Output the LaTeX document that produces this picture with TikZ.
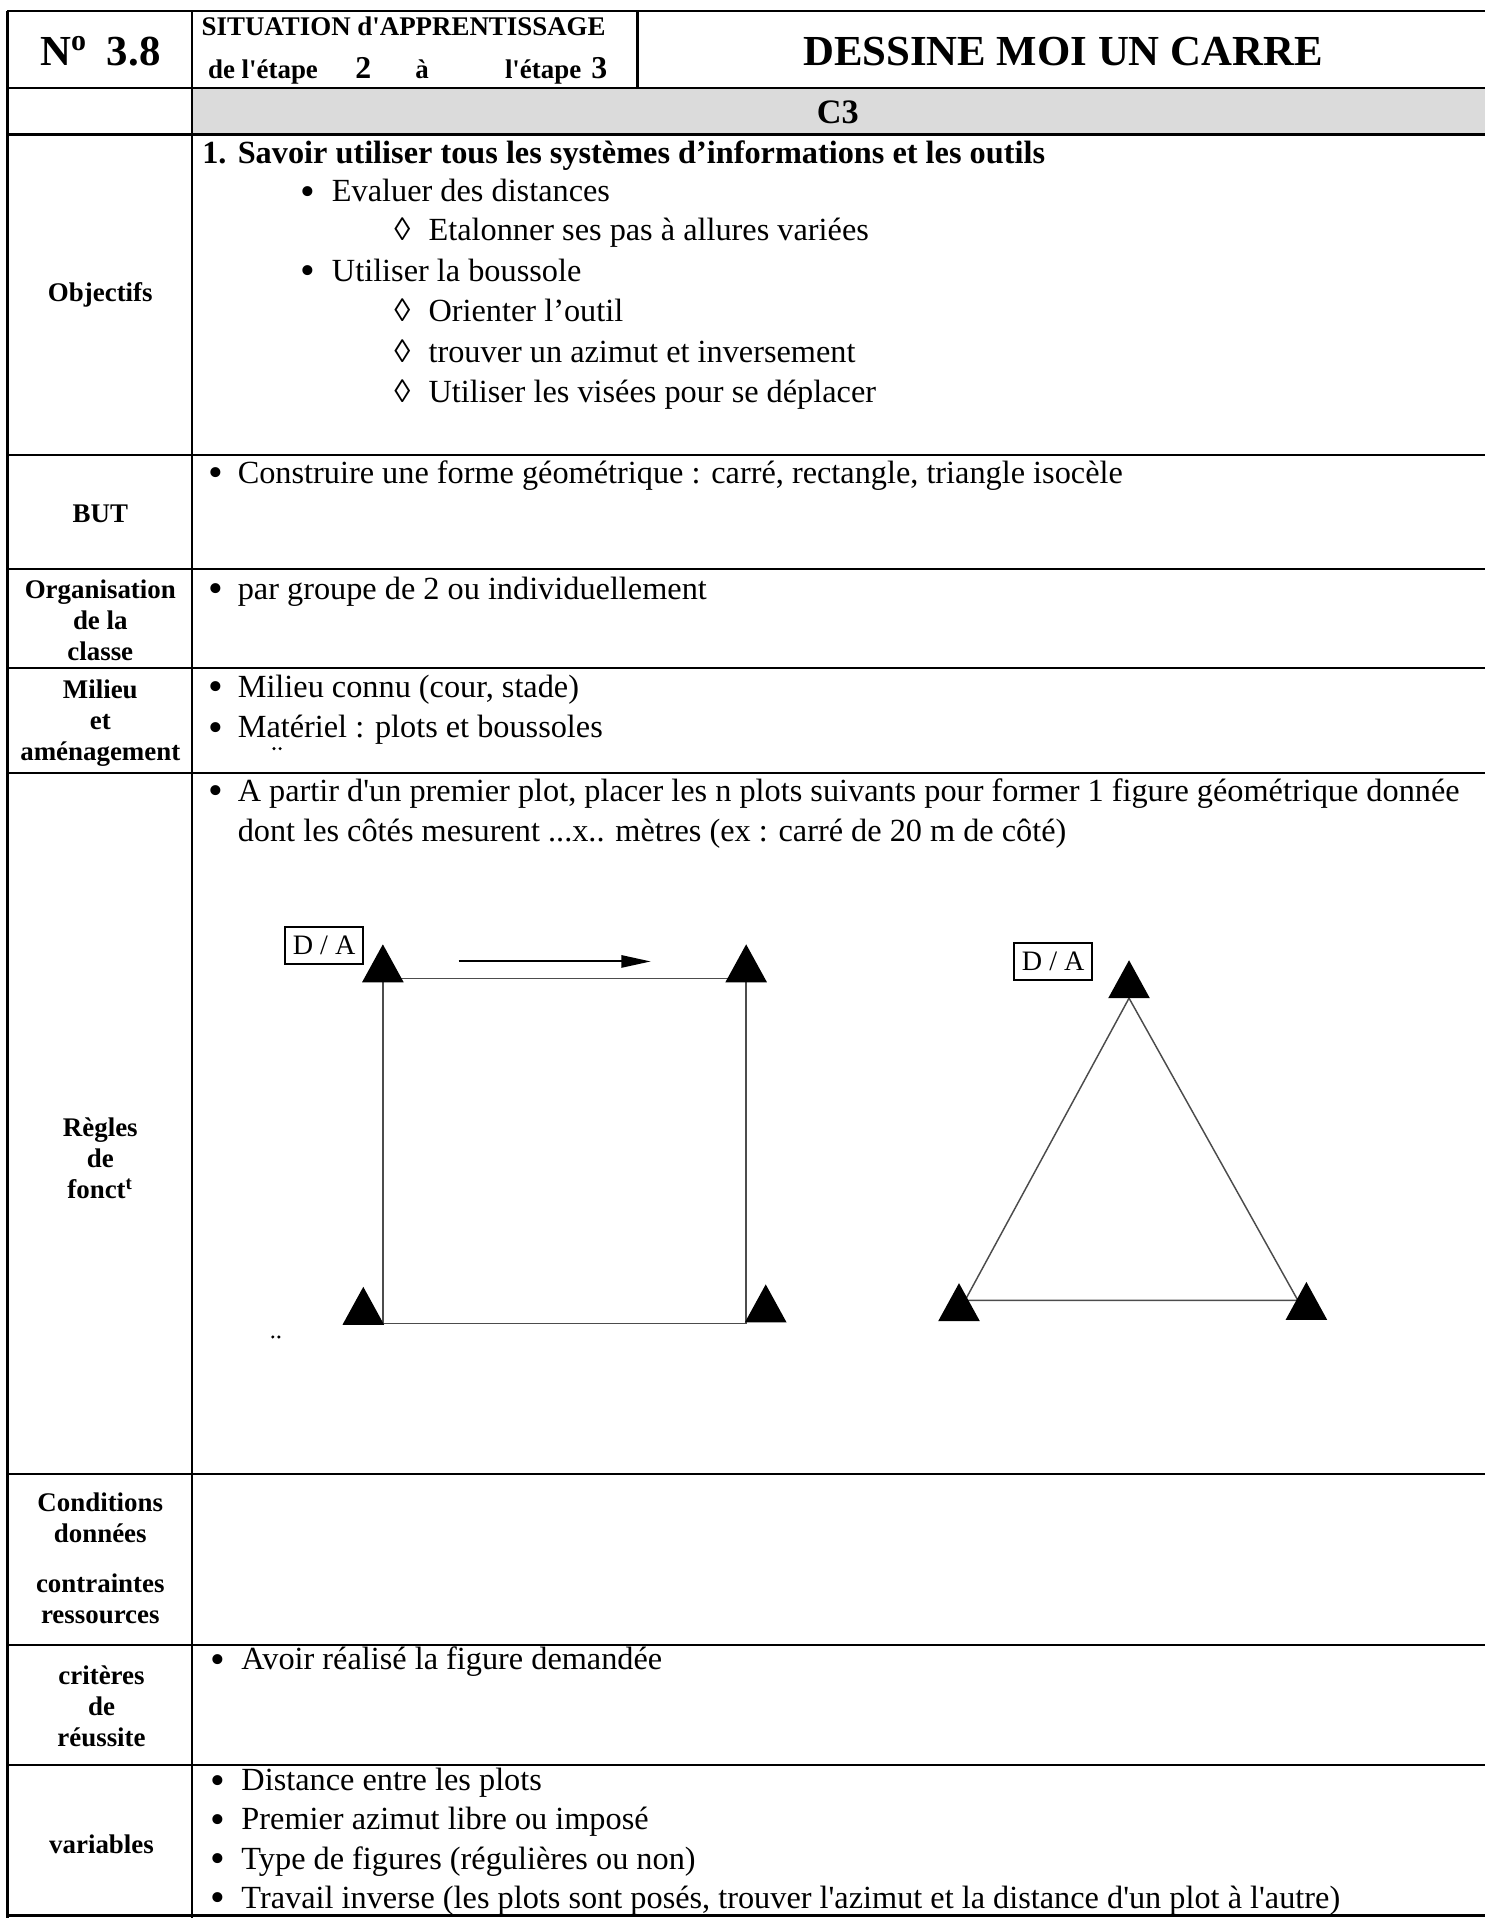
\documentclass[tikz,border=0pt]{standalone}
\usepackage{fontspec}
\setmainfont{Liberation Serif}[Ligatures=TeXOff]
\usetikzlibrary{arrows.meta}
\begin{document}
\begin{tikzpicture}[x=0.5pt,y=-0.5pt,
  gridline/.style={line width=1pt},
  lab/.style={font=\fontsize{11}{12.75}\selectfont\bfseries, align=center, inner sep=0pt},
  txt/.style={font=\fontsize{13.2}{15}\selectfont, anchor=base west, inner sep=0pt},
  hdr/.style={font=\fontsize{11}{13}\selectfont\bfseries, anchor=base, inner sep=0pt},
  fig/.style={line width=0.6pt, draw=black!70},
  tagbox/.style={draw, line width=0.8pt, font=\fontsize{11.5}{12}\selectfont, inner sep=0pt, minimum width=32pt, minimum height=15pt},
  plotmark/.pic={\fill (-17,0) -- (17,0) -- (0,-31) -- cycle;}
]
\useasboundingbox (0,0) rectangle (1214,1568);
\newcommand{\bul}[1]{\hbox to #1{\raisebox{-1.4pt}[5pt][0pt]{\scalebox{1.3}{\textbullet}}\hss}}
\newcommand{\loz}{\hbox to 14pt{\char"25CA\hss}}

% shaded C3 band
\fill[gray!28] (157,72) rectangle (1214,110);

% table grid
\foreach \yy in {9,72,110,372,465,546,632,1205,1345,1443,1566}
  \draw[gridline] (6,\yy) -- (1214,\yy);
\draw[gridline] (6,9) -- (6,1568);
\draw[gridline] (157,9) -- (157,1568);
\draw[gridline] (521,9) -- (521,72);

% header
\node[font=\fontsize{17.5}{20}\selectfont\bfseries, inner sep=0pt] (num) at (82,42) {N\textsuperscript{o}\hspace{8pt}3.8};
\node[hdr] (sit) at (330,29) {SITUATION d'APPRENTISSAGE};
\node[hdr] (et1) at (215,64) {de l'étape};
\node[hdr, font=\fontsize{13}{14}\selectfont\bfseries] (n2) at (297,64) {2};
\node[hdr] (ea) at (345,64) {à};
\node[hdr] (et2) at (444,64) {l'étape};
\node[hdr, font=\fontsize{13}{14}\selectfont\bfseries] (n3) at (490,64) {3};
\node[font=\fontsize{17.5}{20}\selectfont\bfseries, inner sep=0pt] (title) at (869,42) {DESSINE MOI UN CARRE};
\node[font=\fontsize{14}{16}\selectfont\bfseries, inner sep=0pt] (c3) at (685,92) {C3};

% Objectifs
\node[lab] (lobj) at (82,241) {Objectifs};
\node[txt, font=\fontsize{13.2}{15}\selectfont\bfseries] (o1) at (165,134) {\hbox to 14.5pt{1.\hss}Savoir utiliser tous les systèmes d’informations et les outils};
\node[txt] (o2) at (245,165) {\bul{13pt}Evaluer des distances};
\node[txt] (o3) at (322,197) {\loz Etalonner ses pas à allures variées};
\node[txt] (o4) at (245,230) {\bul{13pt}Utiliser la boussole};
\node[txt] (o5) at (322,263) {\loz Orienter l’outil};
\node[txt] (o6) at (322,296) {\loz trouver un azimut et inversement};
\node[txt] (o7) at (322,329) {\loz Utiliser les visées pour se déplacer};

% BUT
\node[lab] (lbut) at (82,420) {BUT};
\node[txt] (b1) at (170,395) {\bul{12pt}Construire une forme géométrique : carré, rectangle, triangle isocèle};

% Organisation
\node[lab] (lorg) at (82,507) {Organisation\\de la\\classe};
\node[txt] (g1) at (170,490) {\bul{12pt}par groupe de 2 ou individuellement};

% Milieu
\node[lab] (lmil) at (82,591) {Milieu\\et\\aménagement};
\node[txt] (m1) at (170,570) {\bul{12pt}Milieu connu (cour, stade)};
\node[txt] (m2) at (170,603) {\bul{12pt}Matériel : plots et boussoles};
\fill (224,612) circle (0.7pt) (229,612) circle (0.7pt);

% Regles
\node[lab] (lreg) at (82,947) {Règles\\de\\fonct\textsuperscript{t}};
\node[txt] (r1) at (170,655) {\bul{12pt}A partir d'un premier plot, placer les n plots suivants pour former 1 figure géométrique donnée};
\node[txt] (r2) at (194,688) {dont les côtés mesurent ...x.. mètres (ex : carré de 20 m de côté)};

% square figure
\coordinate (sTL) at (313,800);
\coordinate (sTR) at (610,800);
\coordinate (sBL) at (313,1082);
\coordinate (sBR) at (610,1082);
\draw[fig] (sTL) -- (sTR) -- (sBR) -- (sBL) -- cycle;
\pic at (313,803) {plotmark};
\pic at (610,803) {plotmark};
\pic at (297,1083) {plotmark};
\pic at (626,1081) {plotmark};
\node[tagbox] (tag1) at (265,773) {D / A};
\coordinate (arS) at (375,786);
\coordinate (arE) at (532,786);
\draw[line width=0.8pt, -{Triangle[length=12pt,width=5pt]}] (arS) -- (arE);
\fill (223,1093) circle (0.7pt) (228,1093) circle (0.7pt);

% triangle figure
\coordinate (tA) at (923,816);
\coordinate (tB) at (789,1063);
\coordinate (tC) at (1061,1063);
\draw[fig] (tA) -- (tB) -- (tC) -- cycle;
\pic at (923,816) {plotmark};
\pic at (784,1080) {plotmark};
\pic at (1068,1079) {plotmark};
\node[tagbox] (tag2) at (861,786) {D / A};

% Conditions
\node[lab] (lcon1) at (82,1241) {Conditions\\données};
\node[lab] (lcon2) at (82,1307) {contraintes\\ressources};

% criteres
\node[lab] (lcri) at (83,1395) {critères\\de\\réussite};
\node[txt] (c1) at (172,1365) {\bul{12.5pt}Avoir réalisé la figure demandée};

% variables
\node[lab] (lvar) at (83,1508) {variables};
\node[txt] (v1) at (172,1464) {\bul{12.5pt}Distance entre les plots};
\node[txt] (v2) at (172,1496) {\bul{12.5pt}Premier azimut libre ou imposé};
\node[txt] (v3) at (172,1528) {\bul{12.5pt}Type de figures (régulières ou non)};
\node[txt] (v4) at (172,1560) {\bul{12.5pt}Travail inverse (les plots sont posés, trouver l'azimut et la distance d'un plot à l'autre)};
\end{tikzpicture}
\end{document}
